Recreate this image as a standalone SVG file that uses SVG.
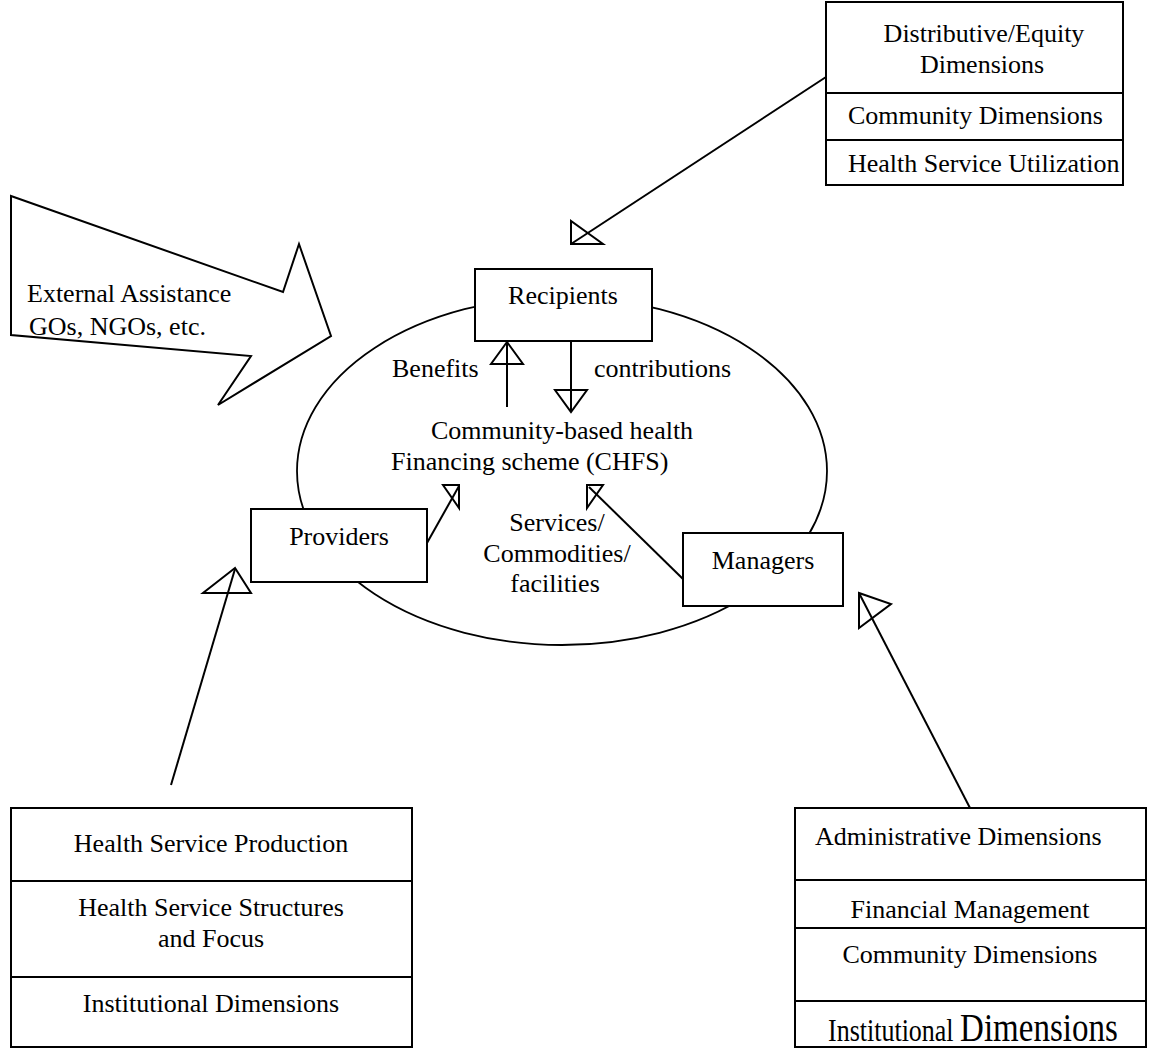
<svg xmlns="http://www.w3.org/2000/svg" width="1152" height="1049" viewBox="0 0 1152 1049">
<style>
text{font-family:"Liberation Serif","Times New Roman",serif;font-size:26px;fill:#000}
.c{text-anchor:middle}
.box{fill:#fff;stroke:#000;stroke-width:2}
.ln{fill:none;stroke:#000;stroke-width:2}
.ah{fill:none;stroke:#000;stroke-width:2;stroke-linejoin:miter}
</style>
<rect width="1152" height="1049" fill="#fff"/>

<g id="chfs">
<ellipse cx="562" cy="471" rx="265" ry="174" fill="none" stroke="#000" stroke-width="1.8"/>
<text x="431" y="439">Community-based health</text>
<text x="391" y="470">Financing scheme (CHFS)</text>
</g>

<g id="external-assistance">
<polygon class="ln" points="11,196 283,292 299,244 331,336 218,405 251,356 11,335"/>
<text x="27" y="302">External Assistance</text>
<text x="29" y="335">GOs, NGOs, etc.</text>
</g>

<g id="connectors">
<line class="ln" x1="826" y1="77" x2="571" y2="244"/>
<polygon class="ah" points="571,221 571,244 603,244"/>
<line class="ln" x1="507" y1="407" x2="507" y2="342"/>
<polygon class="ah" points="507,342 491,364 523,364"/>
<line class="ln" x1="571" y1="341" x2="571" y2="412"/>
<polygon class="ah" points="555,390 587,390 571,412"/>
<line class="ln" x1="427" y1="543" x2="459" y2="486"/>
<polygon class="ah" points="443,485 459,485 459,508"/>
<line class="ln" x1="683" y1="579" x2="589" y2="487"/>
<polygon class="ah" points="587,485 603,485 587,508"/>
<line class="ln" x1="171" y1="785" x2="235" y2="569"/>
<polygon class="ah" points="235,568 203,593 251,593"/>
<line class="ln" x1="970" y1="808" x2="859" y2="593"/>
<polygon class="ah" points="859,593 859,628 891,604"/>
</g>

<g id="labels">
<text x="392" y="377">Benefits</text>
<text x="594" y="377">contributions</text>
<text class="c" x="557" y="531">Services/</text>
<text class="c" x="557" y="562">Commodities/</text>
<text class="c" x="555" y="592">facilities</text>
</g>

<g id="recipients">
<rect class="box" x="475" y="269" width="177" height="72"/>
<text class="c" x="563" y="304">Recipients</text>
</g>

<g id="providers">
<rect class="box" x="251" y="509" width="176" height="73"/>
<text class="c" x="339" y="545">Providers</text>
</g>

<g id="managers">
<rect class="box" x="683" y="533" width="160" height="73"/>
<text class="c" x="763" y="569">Managers</text>
</g>

<g id="distributive-box">
<rect class="box" x="826" y="2" width="297" height="183"/>
<line class="ln" x1="826" y1="93" x2="1123" y2="93"/>
<line class="ln" x1="826" y1="140" x2="1123" y2="140"/>
<text class="c" x="984" y="42">Distributive/Equity</text>
<text class="c" x="982" y="73">Dimensions</text>
<text x="848" y="124">Community Dimensions</text>
<text x="848" y="172">Health Service Utilization</text>
</g>

<g id="provider-dimensions-box">
<rect class="box" x="11" y="808" width="401" height="239"/>
<line class="ln" x1="11" y1="881" x2="412" y2="881"/>
<line class="ln" x1="11" y1="977" x2="412" y2="977"/>
<text class="c" x="211" y="852">Health Service Production</text>
<text class="c" x="211" y="916">Health Service Structures</text>
<text class="c" x="211" y="947">and Focus</text>
<text class="c" x="211" y="1012">Institutional Dimensions</text>
</g>

<g id="manager-dimensions-box">
<rect class="box" x="795" y="808" width="351" height="239"/>
<line class="ln" x1="795" y1="880" x2="1146" y2="880"/>
<line class="ln" x1="795" y1="928" x2="1146" y2="928"/>
<line class="ln" x1="795" y1="1001" x2="1146" y2="1001"/>
<text x="815" y="845">Administrative Dimensions</text>
<text class="c" x="970" y="918">Financial Management</text>
<text class="c" x="970" y="963">Community Dimensions</text>
<text transform="translate(828,1041) scale(1,1.2)">Institutional <tspan style="font-size:33px">Dimensions</tspan></text>
</g>
</svg>
